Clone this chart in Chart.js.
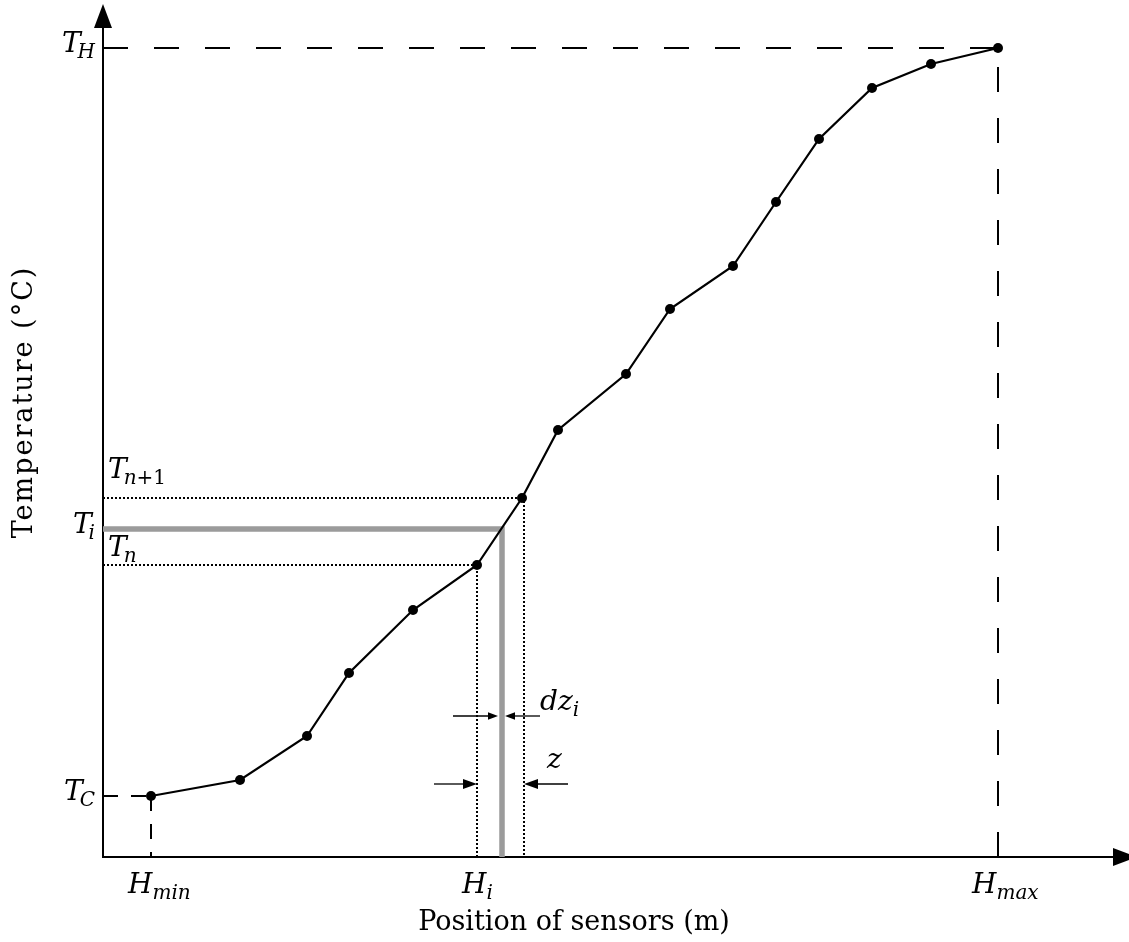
<!DOCTYPE html>
<html><head><meta charset="utf-8">
<script src="https://cdn.jsdelivr.net/npm/chart.js@4.4.1/dist/chart.umd.min.js"></script>
<style>html,body{margin:0;padding:0;background:#fff;}canvas{display:block;}</style>
</head><body>
<canvas id="c" width="1129" height="942"></canvas>
<script>
// ---- data (schematic units) ----
const sensorPositions    = [48, 137, 204, 246, 310, 374, 419, 455, 523, 567, 630, 673, 716, 769, 828, 895];
const sensorTemperatures = [61, 77, 121, 184, 247, 292, 359, 427, 483, 548, 591, 655, 718, 769, 793, 809];

const H_MIN = 48, H_MAX = 895, H_I = 399, H_N = 374, H_N1 = 421;
const T_C = 61, T_H = 809, T_I = 328, T_N = 292, T_N1 = 359;

const xTickLabels = [
  {value: H_MIN, main: 'H', sub: 'min'},
  {value: H_I,   main: 'H', sub: 'i'},
  {value: H_MAX, main: 'H', sub: 'max'}
];
const yTickLabels = [
  {value: T_H, main: 'T', sub: 'H'},
  {value: T_I, main: 'T', sub: 'i'},
  {value: T_C, main: 'T', sub: 'C'}
];
const lineLabels = [
  {value: T_N1, main: 'T', sub: 'n+1'},
  {value: T_N,  main: 'T', sub: 'n'}
];
const dzArrows = [{from: 350, to: 395, y: 141}, {from: 437, to: 402, y: 141}];
const zArrows  = [{from: 331, to: H_N, y: 73}, {from: 465, to: H_N1, y: 73}];
const xAxisTitle = 'Position of sensors (m)';
const yAxisTitle = 'Temperature (°C)';

// ---- layout / style ----
const MATH_FONT = '"DejaVu Serif"';
const TEXT_FONT = '"DejaVu Serif"';
const MAIN_SIZE = 28, SUB_SIZE = 20;
const xLabelLeftDx = [-23, -40, -26];
const lineLabelDy = [-20, -9];

function pts(xs, ys) { return xs.map((x, i) => ({x: x, y: ys[i]})); }

// split subscript into italic letters and upright digits/operators
function subRuns(sub) {
  const runs = [];
  for (const ch of sub) {
    const upright = /[0-9+\-]/.test(ch);
    if (runs.length && runs[runs.length - 1].upright === upright) runs[runs.length - 1].text += ch;
    else runs.push({text: ch, upright: upright});
  }
  return runs;
}
function subFont(upright) { return (upright ? '' : 'italic ') + SUB_SIZE + 'px ' + MATH_FONT; }

function drawMath(ctx, main, sub, x, y, align, kern) {
  ctx.font = 'italic ' + MAIN_SIZE + 'px ' + MATH_FONT;
  const w1 = ctx.measureText(main).width;
  const runs = subRuns(sub);
  let w2 = 0;
  runs.forEach(r => { ctx.font = subFont(r.upright); r.w = ctx.measureText(r.text).width; w2 += r.w; });
  const k = kern || 0;
  const total = w1 + k + w2;
  let sx = x;
  if (align === 'right') sx = x - total;
  else if (align === 'center') sx = x - total / 2;
  ctx.textAlign = 'left';
  ctx.textBaseline = 'alphabetic';
  ctx.font = 'italic ' + MAIN_SIZE + 'px ' + MATH_FONT;
  ctx.fillText(main, sx, y);
  let cx = sx + w1 + k;
  runs.forEach(r => { ctx.font = subFont(r.upright); ctx.fillText(r.text, cx, y + 6); cx += r.w; });
}

function arrowHead(ctx, tipX, tipY, dirX, dirY, len, half) {
  const bx = tipX - dirX * len, by = tipY - dirY * len;
  const px = -dirY, py = dirX;
  ctx.beginPath();
  ctx.moveTo(tipX, tipY);
  ctx.lineTo(bx + px * half, by + py * half);
  ctx.lineTo(bx - px * half, by - py * half);
  ctx.closePath();
  ctx.fill();
}

function hArrow(ctx, x0, x1, y, len, half) {
  const dir = x1 > x0 ? 1 : -1;
  ctx.beginPath();
  ctx.moveTo(x0, y);
  ctx.lineTo(x1 - dir * len * 0.8, y);
  ctx.stroke();
  arrowHead(ctx, x1, y, dir, 0, len, half);
}

const annotPlugin = {
  id: 'annot',
  beforeDatasetsDraw(chart) {
    const ctx = chart.ctx, a = chart.chartArea;
    ctx.save();
    ctx.strokeStyle = '#000'; ctx.fillStyle = '#000'; ctx.lineWidth = 2;
    ctx.beginPath();
    ctx.moveTo(a.left, a.top + 10); ctx.lineTo(a.left, a.bottom); ctx.lineTo(a.right, a.bottom);
    ctx.stroke();
    ctx.restore();
  },
  afterDatasetsDraw(chart) {
    const ctx = chart.ctx, a = chart.chartArea;
    const xs = chart.scales.x, ys = chart.scales.y;
    ctx.save();
    ctx.fillStyle = '#000'; ctx.strokeStyle = '#000';
    // axis arrowheads
    arrowHead(ctx, a.left, a.top, 0, -1, 24, 9);
    arrowHead(ctx, a.right + 8, a.bottom, 1, 0, 24, 9);
    // dz and z arrows
    ctx.lineWidth = 1.3;
    dzArrows.forEach(d => hArrow(ctx, xs.getPixelForValue(d.from), xs.getPixelForValue(d.to), ys.getPixelForValue(d.y), 10, 3.8));
    zArrows.forEach(d => hArrow(ctx, xs.getPixelForValue(d.from), xs.getPixelForValue(d.to), ys.getPixelForValue(d.y), 14, 5));
    drawMath(ctx, 'dz', 'i', xs.getPixelForValue(dzArrows[1].from), ys.getPixelForValue(dzArrows[1].y) - 6, 'left', 0);
    ctx.font = 'italic ' + MAIN_SIZE + 'px ' + MATH_FONT;
    ctx.textAlign = 'left'; ctx.textBaseline = 'alphabetic';
    ctx.fillText('z', xs.getPixelForValue(zArrows[1].from) - 21, ys.getPixelForValue(zArrows[1].y) - 16);
    // y tick labels
    yTickLabels.forEach(l => drawMath(ctx, l.main, l.sub, a.left - 8, ys.getPixelForValue(l.value) + 4, 'right', -3));
    // labels on dotted lines
    lineLabels.forEach((l, i) => drawMath(ctx, l.main, l.sub, a.left + 5, ys.getPixelForValue(l.value) + lineLabelDy[i], 'left', -3));
    // x tick labels
    xTickLabels.forEach((l, i) => drawMath(ctx, l.main, l.sub, xs.getPixelForValue(l.value) + xLabelLeftDx[i], a.bottom + 36, 'left', 0));
    // axis titles
    ctx.font = '27px ' + TEXT_FONT;
    ctx.textAlign = 'center'; ctx.textBaseline = 'alphabetic';
    ctx.fillText(xAxisTitle, 574, a.bottom + 73);
    ctx.save();
    ctx.translate(32, 402);
    ctx.rotate(-Math.PI / 2);
    ctx.letterSpacing = '2px';
    ctx.fillText(yAxisTitle, 0, 0);
    ctx.restore();
    ctx.restore();
  }
};

const lineBase = {showLine: true, pointRadius: 0, borderColor: '#000', tension: 0, fill: false};

new Chart(document.getElementById('c'), {
  type: 'scatter',
  data: {
    datasets: [
      Object.assign({}, lineBase, {
        label: 'Temperature profile',
        data: pts(sensorPositions, sensorTemperatures),
        borderWidth: 2.2, pointRadius: 5, pointBackgroundColor: '#000', pointBorderWidth: 0
      }),
      Object.assign({}, lineBase, {label: 'Tn+1', data: [{x: 0, y: T_N1}, {x: H_N1, y: T_N1}, {x: H_N1, y: 0}], borderWidth: 2, borderDash: [2, 2]}),
      Object.assign({}, lineBase, {label: 'Tn', data: [{x: 0, y: T_N}, {x: H_N, y: T_N}, {x: H_N, y: 0}], borderWidth: 2, borderDash: [2, 2]}),
      Object.assign({}, lineBase, {label: 'TH h', data: [{x: 0, y: T_H}, {x: H_MAX, y: T_H}], borderWidth: 2, borderDash: [25, 26]}),
      Object.assign({}, lineBase, {label: 'TH v', data: [{x: H_MAX, y: 0}, {x: H_MAX, y: T_H}], borderWidth: 2, borderDash: [25, 26]}),
      Object.assign({}, lineBase, {label: 'TC h', data: [{x: 0, y: T_C}, {x: H_MIN, y: T_C}], borderWidth: 2, borderDash: [15, 13]}),
      Object.assign({}, lineBase, {label: 'TC v', data: [{x: H_MIN, y: T_C}, {x: H_MIN, y: 0}], borderWidth: 2, borderDash: [15, 13]}),
      Object.assign({}, lineBase, {label: 'Ti', data: [{x: 0, y: T_I}, {x: H_I, y: T_I}, {x: H_I, y: 0}], borderWidth: 5.5, borderColor: '#9b9b9b', borderJoinStyle: 'miter'})
    ]
  },
  options: {
    responsive: false,
    animation: false,
    events: [],
    layout: {autoPadding: false, padding: {left: 103, right: 0, top: 4, bottom: 85}},
    scales: {
      x: {type: 'linear', min: 0, max: 1026, display: false},
      y: {type: 'linear', min: 0, max: 853, display: false}
    },
    plugins: {legend: {display: false}, tooltip: {enabled: false}},
    datasets: {scatter: {clip: false}}
  },
  plugins: [annotPlugin]
});
</script>
</body></html>
